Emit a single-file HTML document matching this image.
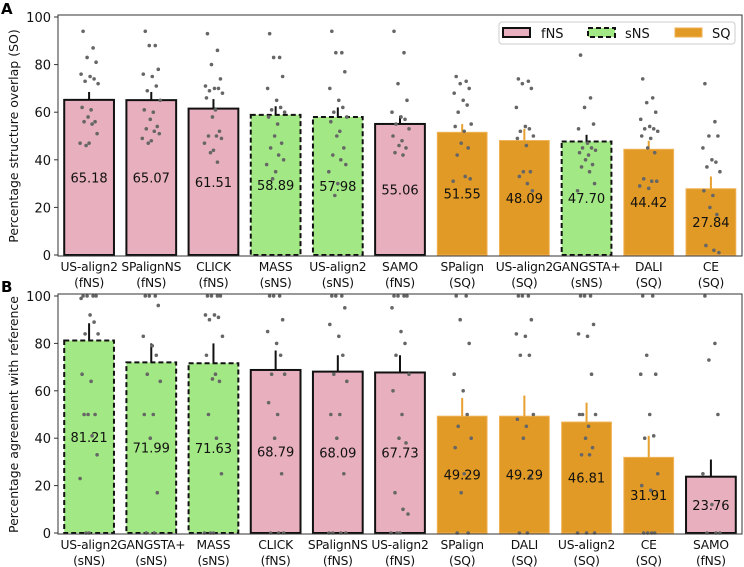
<!DOCTYPE html>
<html><head><meta charset="utf-8"><style>
body{margin:0;background:#fff}
svg{display:block;font-family:"DejaVu Sans","Liberation Sans",sans-serif}
</style></head><body>
<svg id="c" width="744" height="567" xmlns="http://www.w3.org/2000/svg"></svg>
<script>
const catsA=["US-align2|(fNS)","SPalignNS|(fNS)","CLICK|(fNS)","MASS|(sNS)","US-align2|(sNS)","SAMO|(fNS)","SPalign|(SQ)","US-align2|(SQ)","GANGSTA+|(sNS)","DALI|(SQ)","CE|(SQ)"];
const typesA=["fNS","fNS","fNS","sNS","sNS","fNS","SQ","SQ","sNS","SQ","SQ"];
const valsA=[65.18,65.07,61.51,58.89,57.98,55.06,51.55,48.09,47.70,44.42,27.84];
const errA=[68.5,68.5,65.5,62.5,62,58.5,55,53,50.5,48,33];
const dotsA=[
[94,87,83,81,76,75,74,73,72,62,61,58,56,56,55,51,47,47,46],
[94,88,88,78,76,75,71,69,65,61,60,57,54,53,52,51,49,48,47],
[93,86,80,74,71,70,70,69,68,66,61,58,52,50,50,49,47,44,43,39],
[93,83,83,75,70,65,62,61,60,58,55,50,47,45,42,40,38,35,32],
[94,85,85,77,70,65,62,60,58,56,52,50,45,42,40,38,35,30,25],
[94,85,72,65,60,58,57,55,53,50,48,46,45,43,42],
[75,73,72,70,68,65,63,60,55,54,52,47,45,42,33,32,31],
[74,73,72,70,62,54,53,52,50,49,46,35,35,33,30,27],
[84,66,62,55,53,47,45,45,44,43,42,40,38,37,35,30,27],
[74,66,64,60,57,54,53,53,52,50,49,45,43,32,31,31,29,28],
[72,56,50,50,45,40,39,37,35,27,25,20,17,4,2,1]];
const catsB=["US-align2|(sNS)","GANGSTA+|(sNS)","MASS|(sNS)","CLICK|(fNS)","SPalignNS|(fNS)","US-align2|(fNS)","SPalign|(SQ)","DALI|(SQ)","US-align2|(SQ)","CE|(SQ)","SAMO|(fNS)"];
const typesB=["sNS","sNS","sNS","fNS","fNS","fNS","SQ","SQ","SQ","SQ","fNS"];
const valsB=[81.21,71.99,71.63,68.79,68.09,67.73,49.29,49.29,46.81,31.91,23.76];
const errB=[88.5,80,80,77,75,75,57,58,55,41,31];
const dotsB=[
[100,100,100,100,99,92,89,84,84,67,64,50,50,50,41,33,23,0,0],
[100,100,100,96,83,79,75,67,64,50,50,40,17,0,0],
[100,100,100,100,92,92,91,90,83,75,67,65,64,50,40,25,0,0,0],
[100,100,100,90,85,80,75,67,67,55,50,40,25,0,0,0],
[100,100,100,95,88,83,75,67,64,50,50,40,25,0,0,0,0],
[100,100,100,100,95,85,80,75,67,60,50,40,38,17,10,8,0,0,0],
[100,100,90,80,67,60,50,45,40,36,25,17,0,0],
[100,100,100,90,84,83,75,75,50,48,45,40,24,0,0],
[100,100,100,88,84,83,67,50,50,50,45,40,36,33,33,0,0,0],
[100,100,75,67,67,50,41,40,25,20,18,0,0,0,0],
[100,80,73,50,25,12,0,0,0]];
const ticks=[0,20,40,60,80,100];
const jit=[-6,4,-2,7,-8,1,5,-4,9,-7,2,-1,6,-5,3,8,-9,0,-3,4];

const NS="http://www.w3.org/2000/svg";
const svg=document.getElementById('c');
function el(t,a,p){const e=document.createElementNS(NS,t);for(const k in a)e.setAttribute(k,a[k]);(p||svg).appendChild(e);return e;}
const fill={fNS:"#e8b0be",sNS:"#a2e985",SQ:"#e09a25"};
const L=58,R=742;
function panel(name,y0,y1,cats,types,vals,errs,dots,ylab,letter,ly){
  const g=el('g',{});
  
  
  const step=(R-L)/cats.length;
  const X=i=>L+step*(i+0.5);
  const Y=v=>y1-(y1-y0)*v/100;
  cats.forEach((c,i)=>{
    const t=types[i],w=step*0.8,x=X(i)-w/2;
    const r=el('rect',{x:x,y:Y(vals[i]),width:w,height:Y(0)-Y(vals[i]),fill:fill[t],
      stroke:t==="SQ"?"#f0b255":"#111","stroke-width":t==="SQ"?1:2,"stroke-dasharray":t==="sNS"?"5,3":"none"},g);
    
    
    const e=el('line',{x1:X(i),x2:X(i),y1:Y(vals[i]),y2:Y(errs[i]),stroke:t==="SQ"?"#e8a030":"#111","stroke-width":2},g);
    
    
    dots[i].forEach((d,j)=>{
      const p=el('circle',{cx:X(i)+jit[j%jit.length],cy:Y(d),r:1.8,fill:"#666"},g);
      
      
    });
    const vt=el('text',{x:X(i),y:Y(vals[i]/2)+5,"font-size":13,"text-anchor":"middle",fill:"#111"},g);
    vt.textContent=vals[i].toFixed(2);
    
    
    const parts=c.split('|');
    parts.forEach((p,k)=>{
      const tt=el('text',{x:X(i),y:y1+16+k*16,"font-size":12.3,"letter-spacing":-0.2,"text-anchor":"middle",fill:"#111"},g);
      tt.textContent=p;
      
      
    });
  });
  ticks.forEach(v=>{
    el('line',{x1:L-4,x2:L,y1:Y(v),y2:Y(v),stroke:"#333"},g);
    const t=el('text',{x:L-7,y:Y(v)+5,"font-size":13,"text-anchor":"end",fill:"#111"},g);
    t.textContent=v;
    
    
  });
  const fr=el('rect',{x:L,y:y0-2,width:R-L,height:y1-y0+3,fill:"none",stroke:"#333","stroke-width":1},g);
  
  
  const yl=el('text',{transform:`translate(18,${(y0+y1)/2}) rotate(-90)`,"font-size":12.5,"text-anchor":"middle",fill:"#111"},g);
  yl.textContent=ylab;
  
  
  const lt=el('text',{x:1,y:ly,"font-size":15,"font-weight":"bold",fill:"#000"},g);
  lt.textContent=letter;
  
  
}
panel('panel-a-chart',17,255,catsA,typesA,valsA,errA,dotsA,'Percentage structure overlap (SO)','A',14);
panel('panel-b-chart',296,533,catsB,typesB,valsB,errB,dotsB,'Percentage agreement with reference','B',292);
const lg=el('g',{});


el('rect',{x:499,y:22,width:236,height:22,rx:3,fill:"#fff",stroke:"#ccc"},lg);
const leg=[["fNS",503,541],["sNS",588,625],["SQ",675,712]];
leg.forEach(([n,px,tx])=>{
  const r=el('rect',{x:px,y:28,width:27,height:9,fill:fill[n],stroke:n==="SQ"?"#f0b255":"#111","stroke-width":n==="SQ"?1:2,"stroke-dasharray":n==="sNS"?"5,3":"none"},lg);
  
  
  const t=el('text',{x:tx,y:38,"font-size":13,fill:"#111"},lg);
  t.textContent=n;
  
  
});
</script>
</body></html>
